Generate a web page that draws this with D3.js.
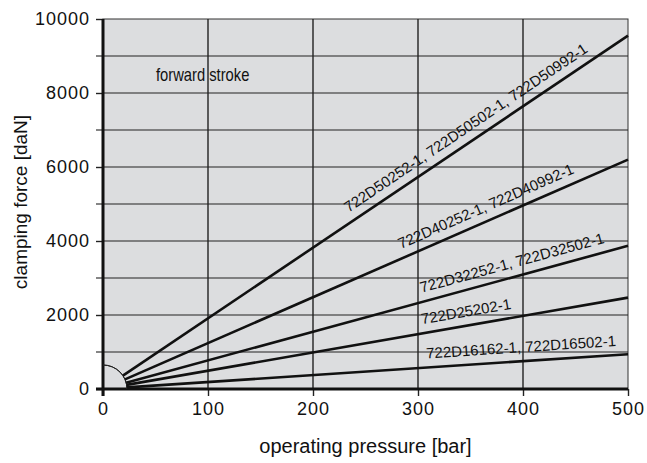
<!DOCTYPE html>
<meta charset="utf-8"/>
<style>
  body { margin: 0; background: #fff; }
  text { fill: #111; }
  .tick text { font-family: "Liberation Sans", Arial, sans-serif; font-size: 18px; letter-spacing: 1px; }
  .title { font-family: "Liberation Sans", Arial, sans-serif; font-size: 19px; }
  .lbl { font-family: "Liberation Sans", Arial, sans-serif; font-size: 15px; }
</style>
<svg width="647" height="463"></svg>
<script src="https://cdnjs.cloudflare.com/ajax/libs/d3/7.8.5/d3.min.js"></script>
<script>

  // clamping force at 500 bar for each cylinder group (lines go through the origin)
  var models = [
    "722D50252-1, 722D50502-1, 722D50992-1",
    "722D40252-1, 722D40992-1",
    "722D32252-1, 722D32502-1",
    "722D25202-1",
    "722D16162-1, 722D16502-1"
  ];
  var forceAtMax = [9550, 6200, 3870, 2470, 940];
  var labelAt = [353, 370, 393, 348, 399];   // pressure where label is centred

  var xTicks = [0, 100, 200, 300, 400, 500];
  var yTicks = [0, 2000, 4000, 6000, 8000, 10000];
  var yGrid = [1000, 2000, 3000, 4000, 5000, 6000, 7000, 8000, 9000];
  var xGrid = [100, 200, 300, 400];

  var svg = d3.select("svg");

  var x = d3.scaleLinear().domain([0, 500]).range([103, 628]);
  var y = d3.scaleLinear().domain([0, 10000]).range([389, 19]);

  // plot background
  svg.append("rect")
    .attr("x", x(0)).attr("y", y(10000))
    .attr("width", x(500) - x(0)).attr("height", y(0) - y(10000))
    .attr("fill", "#dcdddf")
    .attr("stroke", "#333")
    .attr("stroke-width", 1);

  // grid
  svg.append("g").selectAll("line")
    .data(yGrid)
    .enter().append("line")
    .attr("x1", x(0)).attr("x2", x(500))
    .attr("y1", function (d) { return y(d); })
    .attr("y2", function (d) { return y(d); })
    .attr("stroke", "#222").attr("stroke-width", 1.1);

  svg.append("g").selectAll("line")
    .data(xGrid)
    .enter().append("line")
    .attr("y1", y(0)).attr("y2", y(10000))
    .attr("x1", function (d) { return x(d); })
    .attr("x2", function (d) { return x(d); })
    .attr("stroke", "#222").attr("stroke-width", 1.4);

  // axes
  var yAxis = svg.append("g")
    .attr("transform", "translate(" + x(0) + ",0)")
    .call(d3.axisLeft(y).tickValues(yTicks).tickSize(7).tickPadding(6).tickFormat(d3.format("d")));
  var xAxis = svg.append("g")
    .attr("transform", "translate(0," + y(0) + ")")
    .call(d3.axisBottom(x).tickValues(xTicks).tickSize(7).tickPadding(6));

  // minor ticks on y at odd thousands
  svg.append("g").selectAll("line")
    .data([1000, 3000, 5000, 7000, 9000])
    .enter().append("line")
    .attr("x1", x(0) - 7).attr("x2", x(0))
    .attr("y1", function (d) { return y(d); })
    .attr("y2", function (d) { return y(d); })
    .attr("stroke", "#222").attr("stroke-width", 1.1);

  [yAxis, xAxis].forEach(function (a) {
    a.select(".domain").remove();
    a.selectAll(".tick line").attr("stroke", "#222").attr("stroke-width", 1.4);
  });

  // thick left and bottom axis lines
  svg.append("line")
    .attr("x1", x(0)).attr("x2", x(0)).attr("y1", y(0) + 7).attr("y2", y(10000))
    .attr("stroke", "#111").attr("stroke-width", 3);
  svg.append("line")
    .attr("x1", x(0) - 7).attr("x2", x(500)).attr("y1", y(0)).attr("y2", y(0))
    .attr("stroke", "#111").attr("stroke-width", 3);

  // quarter arc at origin
  var r0 = 24;
  svg.append("path")
    .attr("d", d3.arc().innerRadius(r0).outerRadius(r0).startAngle(0).endAngle(Math.PI / 2)())
    .attr("transform", "translate(" + x(0) + "," + y(0) + ")")
    .attr("fill", "none").attr("stroke", "#222").attr("stroke-width", 1);

  // force lines, starting on the arc
  var lines = svg.append("g");
  forceAtMax.forEach(function (f, i) {
    var dx = x(500) - x(0), dy = y(f) - y(0);
    var len = Math.sqrt(dx * dx + dy * dy);
    var ang = Math.atan2(dy, dx);
    lines.append("line")
      .attr("x1", x(0) + r0 * dx / len).attr("y1", y(0) + r0 * dy / len)
      .attr("x2", x(500)).attr("y2", y(f))
      .attr("stroke", "#111").attr("stroke-width", 2.6);

    var p = labelAt[i];
    var px = x(p), py = y(f * p / 500);
    lines.append("text")
      .attr("class", "lbl")
      .attr("text-anchor", "middle")
      .attr("transform", "translate(" + px + "," + py + ") rotate(" + (ang * 180 / Math.PI) + ")")
      .attr("dy", -9)
      .text(models[i]);
  });

  svg.append("text")
    .attr("class", "title")
    .attr("transform", "translate(156,81) scale(0.82,1)")
    .style("font-size", "18px")
    .text("forward stroke");

  svg.append("text")
    .attr("class", "title")
    .attr("text-anchor", "middle")
    .attr("transform", "translate(27,202) rotate(-90)")
    .text("clamping force [daN]");

  svg.append("text")
    .attr("class", "title")
    .attr("text-anchor", "middle")
    .attr("x", (x(0) + x(500)) / 2).attr("y", 453)
    .style("font-size", "20px")
    .text("operating pressure [bar]");

</script>
